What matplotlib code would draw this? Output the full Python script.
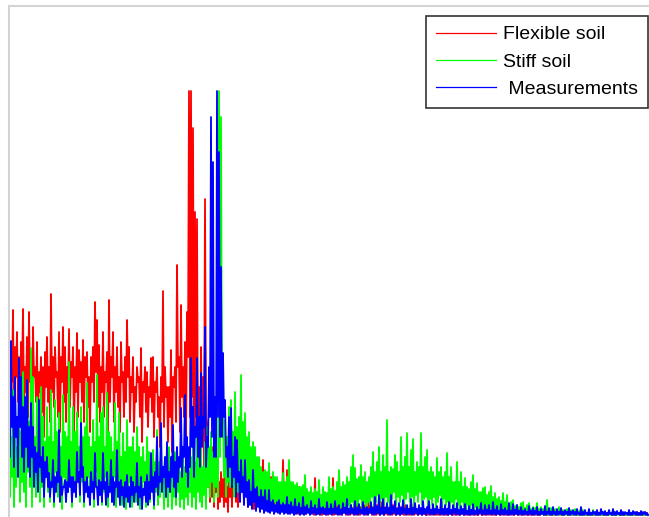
import numpy as np
import matplotlib.pyplot as plt

plt.rcParams['font.family'] = ['Liberation Sans', 'DejaVu Sans']

# one sample per pixel column: "top" values at odd columns, "low" values at even ones
freq = np.arange(9, 649)

flexible_top = [
    189, 165, 207, 170, 185, 160, 175, 208, 150, 180,
    205, 165, 190, 150, 175, 145, 160, 150, 165, 180,
    150, 223, 160, 170, 145, 185, 160, 190, 170, 150,
    188, 155, 170, 150, 184, 167, 155, 177, 160, 165,
    140, 160, 170, 215, 197, 172, 150, 185, 145, 165,
    217, 160, 185, 150, 170, 140, 175, 145, 160, 197,
    170, 140, 160, 130, 150, 140, 169, 135, 150, 145,
    130, 159, 160, 135, 150, 120, 140, 226, 150, 130,
    130, 167, 140, 150, 252, 160, 212, 150, 175, 205,
    426, 426, 389, 305, 298, 130, 170, 140, 318, 94,
    60, 45, 70, 40, 55, 35, 45, 38, 50, 30,
    60, 40, 75, 45, 70, 40, 60, 90, 85, 45,
    60, 40, 74, 40, 50, 57, 35, 57, 40, 44,
    30, 40, 30, 35, 25, 30, 25, 57, 30, 47,
    20, 30, 18, 25, 15, 30, 12, 20, 12, 15,
    10, 15, 8, 39, 10, 15, 8, 12, 9, 20,
    8, 10, 39, 9, 12, 45, 8, 15, 9, 10,
    8, 12, 9, 10, 18, 7, 10, 8, 12, 7,
    35, 8, 10, 7, 12, 6, 15, 8, 10, 6,
    8, 6, 12, 7, 9, 6, 10, 7, 12, 7,
    8, 17, 6, 10, 6, 8, 7, 9, 5, 7,
    10, 6, 8, 6, 7, 5, 12, 6, 7, 5,
    9, 5, 6, 6, 8, 5, 7, 6, 6, 5,
    8, 5, 6, 5, 7, 5, 5, 8, 5, 6,
    10, 5, 6, 5, 7, 4, 6, 5, 5, 4,
    6, 4, 8, 4, 5, 4, 6, 5, 5, 4,
    6, 4, 5, 4, 5, 4, 6, 4, 4, 4,
    5, 4, 6, 3, 5, 4, 4, 3, 5, 4,
    4, 3, 5, 4, 4, 3, 5, 4, 4, 3,
    5, 4, 4, 3, 6, 4, 4, 3, 5, 4,
    4, 3, 5, 4, 4, 3, 6, 4, 4, 3,
    5, 4, 4, 3, 5, 4, 4, 3, 5, 4,
]
flexible_low = [
    115, 135, 95, 140, 115, 90, 140, 105, 125, 100,
    135, 95, 140, 115, 85, 125, 105, 80, 130, 115,
    95, 125, 110, 140, 100, 85, 135, 115, 95, 125,
    110, 140, 85, 125, 100, 135, 115, 95, 140, 110,
    85, 135, 115, 145, 110, 95, 125, 100, 135, 85,
    115, 140, 95, 125, 110, 85, 135, 100, 115, 140,
    95, 125, 85, 115, 135, 100, 75, 125, 105, 90,
    120, 105, 80, 125, 100, 70, 115, 90, 120, 75,
    100, 65, 130, 95, 150, 85, 120, 100, 75, 160,
    100, 120, 80, 100, 60, 40, 80, 50, 100, 30,
    15, 20, 10, 25, 8, 15, 20, 10, 15, 5,
    20, 10, 25, 15, 10, 20, 25, 15, 30, 10,
    15, 20, 8, 25, 15, 10, 20, 8, 15, 10,
    8, 12, 5, 10, 6, 12, 8, 15, 5, 10,
    5, 8, 4, 6, 3, 8, 4, 6, 3, 5,
    3, 4, 2, 5, 3, 4, 2, 3, 4, 2,
    3, 4, 2, 3, 5, 2, 3, 4, 2, 3,
    2, 3, 4, 2, 3, 2, 4, 3, 2, 3,
    4, 2, 3, 2, 3, 2, 4, 2, 3, 2,
    3, 2, 3, 2, 3, 2, 3, 2, 3, 2,
    2, 3, 2, 3, 2, 3, 2, 3, 2, 2,
    3, 2, 3, 2, 2, 3, 2, 3, 2, 2,
    3, 2, 2, 3, 2, 2, 3, 2, 2, 3,
    2, 2, 3, 2, 2, 3, 2, 2, 3, 2,
    2, 3, 2, 2, 3, 2, 2, 3, 2, 2,
    3, 2, 2, 3, 2, 2, 2, 3, 2, 2,
    2, 2, 3, 2, 2, 2, 3, 2, 2, 2,
    3, 2, 2, 2, 3, 2, 2, 2, 3, 2,
    2, 2, 3, 2, 2, 2, 2, 3, 2, 2,
    2, 3, 2, 2, 2, 3, 2, 2, 2, 2,
    3, 2, 2, 2, 3, 2, 2, 2, 2, 3,
    2, 2, 2, 3, 2, 2, 2, 2, 3, 2,
]

stiff_top = [
    127, 80, 127, 90, 70, 137, 85, 145, 80, 137,
    95, 169, 140, 80, 120, 85, 130, 100, 75, 110,
    80, 127, 75, 117, 85, 104, 70, 122, 85, 80,
    155, 75, 110, 85, 105, 70, 110, 80, 90, 134,
    80, 70, 97, 75, 142, 80, 104, 110, 70, 124,
    85, 80, 65, 114, 75, 104, 60, 84, 65, 97,
    70, 70, 80, 65, 90, 70, 60, 70, 55, 80,
    65, 60, 67, 55, 87, 55, 74, 50, 60, 55,
    70, 45, 50, 65, 50, 55, 45, 70, 50, 50,
    45, 60, 70, 55, 80, 60, 70, 50, 75, 90,
    70, 85, 65, 80, 60, 426, 400, 105, 97, 80,
    110, 117, 85, 125, 90, 100, 142, 95, 104, 80,
    85, 70, 75, 70, 60, 60, 50, 45, 47, 45,
    54, 38, 45, 40, 40, 35, 35, 44, 35, 40,
    57, 35, 35, 32, 34, 30, 30, 32, 42, 28,
    25, 30, 24, 28, 25, 37, 22, 30, 25, 24,
    40, 28, 30, 26, 35, 47, 30, 35, 32, 40,
    35, 50, 62, 49, 38, 40, 52, 40, 45, 35,
    40, 50, 65, 45, 55, 70, 45, 62, 50, 97,
    45, 50, 48, 62, 55, 45, 80, 50, 60, 84,
    50, 67, 78, 45, 55, 50, 84, 50, 60, 67,
    45, 50, 45, 40, 59, 45, 50, 40, 45, 64,
    40, 50, 35, 35, 55, 35, 45, 30, 39, 30,
    28, 35, 42, 28, 34, 25, 25, 29, 30, 22,
    25, 31, 20, 24, 18, 20, 16, 24, 15, 22,
    12, 15, 17, 11, 12, 10, 14, 15, 9, 12,
    14, 8, 10, 9, 14, 8, 10, 8, 8, 17,
    6, 9, 6, 8, 6, 10, 5, 7, 5, 8,
    5, 7, 5, 8, 4, 6, 4, 7, 5, 4,
    6, 4, 7, 3, 5, 4, 6, 3, 4, 4,
    5, 3, 4, 4, 5, 3, 4, 3, 4, 4,
    3, 4, 4, 3, 4, 3, 4, 3, 4, 3,
]
stiff_low = [
    20, 40, 10, 30, 50, 15, 35, 25, 10, 45,
    30, 10, 40, 20, 50, 15, 30, 10, 40, 25,
    15, 35, 10, 45, 20, 30, 8, 40, 15, 25,
    40, 10, 30, 20, 50, 15, 35, 10, 25, 40,
    15, 30, 10, 45, 20, 35, 12, 25, 40, 10,
    30, 15, 40, 10, 25, 35, 12, 30, 8, 20,
    35, 10, 25, 15, 30, 8, 20, 35, 10, 25,
    15, 30, 8, 25, 12, 20, 30, 8, 20, 10,
    25, 8, 20, 12, 25, 10, 18, 8, 20, 12,
    25, 10, 20, 8, 25, 15, 10, 22, 8, 30,
    20, 35, 15, 30, 20, 60, 100, 40, 20, 35,
    30, 50, 20, 40, 25, 45, 30, 20, 35, 15,
    25, 15, 30, 10, 20, 12, 18, 8, 15, 10,
    12, 8, 15, 6, 12, 10, 5, 12, 8, 10,
    6, 12, 8, 5, 10, 6, 8, 4, 10, 6,
    8, 5, 10, 6, 4, 8, 6, 10, 5, 8,
    6, 10, 5, 8, 12, 6, 10, 5, 8, 12,
    8, 15, 10, 6, 12, 18, 8, 14, 10, 15,
    12, 20, 8, 15, 22, 10, 18, 12, 20, 15,
    10, 18, 25, 12, 20, 15, 22, 10, 18, 25,
    15, 20, 10, 22, 15, 25, 12, 18, 20, 10,
    18, 12, 20, 8, 15, 22, 10, 18, 12, 15,
    10, 15, 8, 18, 12, 8, 15, 10, 6, 12,
    8, 12, 6, 10, 8, 5, 10, 6, 8, 5,
    8, 5, 6, 4, 8, 5, 6, 4, 5, 6,
    4, 5, 3, 5, 4, 3, 5, 3, 4, 3,
    4, 3, 2, 4, 3, 2, 3, 2, 3, 2,
    2, 3, 2, 2, 3, 2, 2, 3, 2, 2,
    2, 2, 3, 2, 2, 2, 3, 2, 2, 2,
    2, 2, 2, 3, 2, 2, 2, 2, 3, 2,
    2, 3, 2, 2, 2, 2, 3, 2, 2, 2,
    2, 2, 2, 2, 3, 2, 2, 2, 2, 2,
]

measured_top = [
    175, 176, 120, 140, 100, 159, 140, 110, 120, 137,
    90, 114, 90, 70, 64, 117, 60, 70, 55, 60,
    44, 35, 57, 40, 45, 87, 40, 30, 37, 35,
    57, 40, 40, 35, 65, 45, 94, 50, 35, 40,
    30, 45, 35, 64, 30, 37, 35, 64, 35, 45,
    30, 57, 40, 35, 67, 35, 37, 30, 35, 42,
    30, 40, 35, 30, 54, 30, 40, 28, 35, 42,
    35, 64, 40, 45, 80, 40, 94, 50, 60, 75,
    45, 60, 92, 55, 70, 60, 109, 70, 122, 80,
    70, 159, 110, 90, 159, 100, 144, 100, 190, 80,
    150, 400, 355, 120, 426, 365, 250, 164, 117, 70,
    100, 109, 60, 80, 77, 45, 57, 40, 57, 35,
    37, 25, 47, 28, 30, 20, 27, 20, 27, 16,
    27, 15, 17, 12, 15, 17, 12, 14, 12, 20,
    12, 15, 10, 18, 10, 14, 9, 20, 10, 12,
    8, 16, 9, 12, 8, 18, 9, 10, 8, 15,
    8, 13, 8, 16, 9, 12, 7, 14, 9, 18,
    8, 12, 8, 16, 9, 13, 7, 15, 9, 10,
    8, 15, 9, 20, 10, 22, 9, 18, 9, 14,
    9, 22, 10, 16, 8, 14, 9, 17, 8, 12,
    8, 18, 9, 14, 8, 12, 9, 16, 8, 10,
    16, 7, 13, 8, 11, 7, 18, 8, 12, 8,
    15, 7, 12, 8, 14, 7, 11, 8, 13, 6,
    11, 7, 13, 6, 10, 7, 14, 6, 12, 7,
    12, 6, 15, 7, 11, 6, 13, 7, 9, 6,
    14, 6, 13, 7, 12, 6, 10, 6, 8, 5,
    11, 6, 9, 6, 10, 5, 8, 5, 11, 5,
    9, 5, 10, 5, 8, 5, 9, 5, 7, 5,
    9, 5, 7, 5, 8, 4, 10, 5, 7, 4,
    8, 4, 6, 5, 7, 4, 8, 5, 6, 4,
    7, 4, 8, 5, 6, 4, 7, 5, 5, 4,
    7, 4, 6, 5, 5, 4, 6, 5, 5, 4,
]
measured_low = [
    60, 90, 50, 80, 40, 90, 60, 45, 70, 50,
    40, 60, 30, 45, 25, 50, 35, 20, 40, 30,
    20, 30, 15, 25, 35, 15, 22, 30, 15, 25,
    30, 15, 25, 20, 35, 22, 40, 15, 25, 20,
    12, 25, 18, 30, 12, 22, 15, 28, 12, 20,
    25, 15, 12, 30, 20, 12, 22, 10, 20, 15,
    10, 22, 15, 25, 12, 20, 8, 22, 15, 12,
    18, 25, 12, 30, 22, 35, 25, 40, 20, 30,
    25, 40, 30, 20, 35, 50, 40, 60, 45, 30,
    50, 70, 40, 80, 60, 50, 70, 90, 50, 70,
    100, 80, 60, 60, 100, 80, 80, 100, 60, 40,
    50, 30, 40, 20, 35, 15, 25, 12, 20, 10,
    12, 8, 15, 6, 10, 5, 8, 4, 6, 5,
    4, 6, 3, 5, 4, 3, 5, 3, 4, 3,
    3, 4, 2, 3, 4, 2, 3, 2, 3, 4,
    2, 3, 4, 2, 3, 2, 4, 3, 2, 3,
    3, 2, 4, 3, 2, 3, 2, 4, 3, 2,
    3, 4, 2, 3, 2, 4, 3, 2, 3, 2,
    4, 3, 2, 3, 4, 2, 3, 2, 4, 3,
    2, 3, 4, 2, 3, 2, 3, 4, 2, 3,
    3, 2, 3, 4, 2, 3, 2, 3, 2, 4,
    2, 3, 2, 3, 4, 2, 3, 2, 3, 2,
    3, 2, 4, 2, 3, 2, 3, 2, 3, 2,
    2, 3, 2, 3, 2, 4, 2, 3, 2, 3,
    3, 2, 3, 2, 3, 2, 3, 2, 3, 2,
    2, 3, 2, 3, 2, 3, 2, 2, 3, 2,
    3, 2, 2, 3, 2, 2, 3, 2, 2, 3,
    2, 2, 3, 2, 2, 3, 2, 2, 3, 2,
    2, 3, 2, 2, 3, 2, 2, 2, 3, 2,
    2, 2, 3, 2, 2, 2, 3, 2, 2, 2,
    3, 2, 2, 2, 3, 2, 2, 2, 3, 2,
    2, 2, 3, 2, 2, 2, 2, 3, 2, 2,
]


def interleave(top, low):
    return np.column_stack([top, low]).ravel()


flexible = interleave(flexible_top, flexible_low)
stiff = interleave(stiff_top, stiff_low)
measured = interleave(measured_top, measured_low)

fig = plt.figure(figsize=(6.49, 5.17), dpi=100)
ax = fig.add_axes([9 / 649, 0, 640 / 649, 511 / 517])

ax.plot(freq, flexible, color='#ff0000', lw=1.3, label='Flexible soil')
ax.plot(freq, stiff, color='#00ff00', lw=1.3, label='Stiff soil')
ax.plot(freq, measured, color='#0000ff', lw=1.3, label=' Measurements')

ax.set_xlim(9, 649)
ax.set_ylim(0, 511)
ax.set_xticks([])
ax.set_yticks([])
for s in ['bottom', 'right']:
    ax.spines[s].set_visible(False)
for s in ['left', 'top']:
    ax.spines[s].set_color('#d3d3d3')
    ax.spines[s].set_linewidth(1.5)

leg = ax.legend(loc='upper right', bbox_to_anchor=(648 / 649, 1 - 16 / 517),
                bbox_transform=fig.transFigure, borderaxespad=0, fancybox=False,
                edgecolor='black', fontsize=14, handlelength=3.1, handletextpad=0.36,
                labelspacing=0.5, borderpad=0.5)
leg.get_frame().set_linewidth(1.2)
for line in leg.get_lines():
    line.set_linewidth(0.9)

fig.savefig('out.png', dpi=100)
